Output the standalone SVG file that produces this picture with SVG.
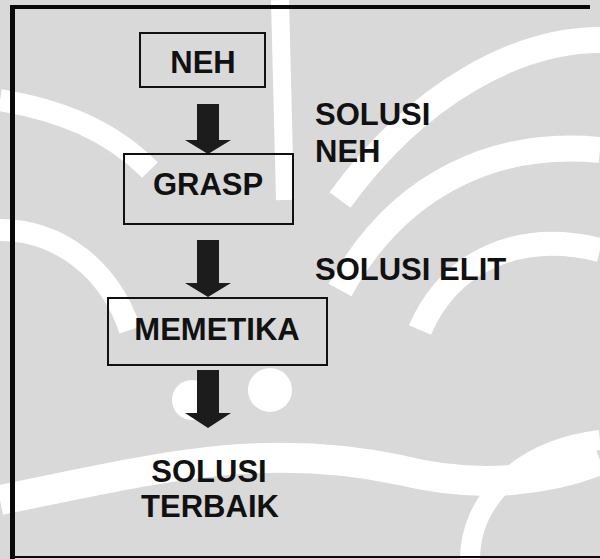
<svg xmlns="http://www.w3.org/2000/svg" width="600" height="559" viewBox="0 0 600 559">
<style>
.t{font-family:"Liberation Sans",Arial,sans-serif;font-weight:bold;font-size:31px;fill:#111}
.m{text-anchor:middle}
.box{fill:none;stroke:#111;stroke-width:2}
.arr{fill:#1c1c1c}
.wm{fill:none;stroke:#ffffff}
</style>
<rect width="600" height="559" fill="#d9d9d9"/>
<g id="watermark">
<path class="wm" stroke-width="22" d="M0 100 C60 110 110 130 150 170"/>
<path class="wm" stroke-width="18" d="M280 0 L285 200"/>
<path class="wm" stroke-width="26" d="M600 40 C520 40 420 90 340 200"/>
<path class="wm" stroke-width="26" d="M600 150 C500 140 400 180 340 290"/>
<path class="wm" stroke-width="24" d="M600 250 C520 230 450 260 420 330"/>
<path class="wm" stroke-width="22" d="M0 230 C60 230 110 270 130 330"/>
<circle cx="192" cy="400" r="20" fill="#fff"/>
<circle cx="270" cy="390" r="22" fill="#fff"/>
<path class="wm" stroke-width="30" d="M0 500 C150 470 260 440 400 470 C480 490 550 480 600 460"/>
<path class="wm" stroke-width="20" d="M470 560 C470 500 520 450 600 440"/>
</g>
<g id="frame" fill="#0a0a0a">
<rect x="10" y="5" width="5" height="554"/>
<rect x="10" y="5" width="580" height="4"/>
<rect x="10" y="556" width="590" height="2"/>
</g>
<g id="connectors">
<polygon class="arr" points="197,104 219,104 219,140 231,140 208,154 185,140 197,140"/>
<polygon class="arr" points="197,240 219,240 219,283 231,283 208,297 185,283 197,283"/>
<polygon class="arr" points="197,370 219,370 219,413 231,413 208,428 185,413 197,413"/>
</g>
<g id="neh">
<rect class="box" x="140" y="33" width="125" height="54"/>
<text class="t m" x="203" y="73">NEH</text>
</g>
<g id="grasp">
<rect class="box" x="124" y="154" width="169" height="70"/>
<text class="t m" x="208" y="195">GRASP</text>
</g>
<g id="memetika">
<rect class="box" x="108" y="298" width="219" height="67"/>
<text class="t m" x="217" y="340">MEMETIKA</text>
</g>
<g id="solusi-terbaik">
<text class="t m" x="209" y="482">SOLUSI</text>
<text class="t m" x="210" y="517">TERBAIK</text>
</g>
<g id="labels">
<text class="t" x="315" y="125">SOLUSI</text>
<text class="t" x="315" y="162">NEH</text>
<text class="t" x="315" y="280">SOLUSI ELIT</text>
</g>
</svg>
